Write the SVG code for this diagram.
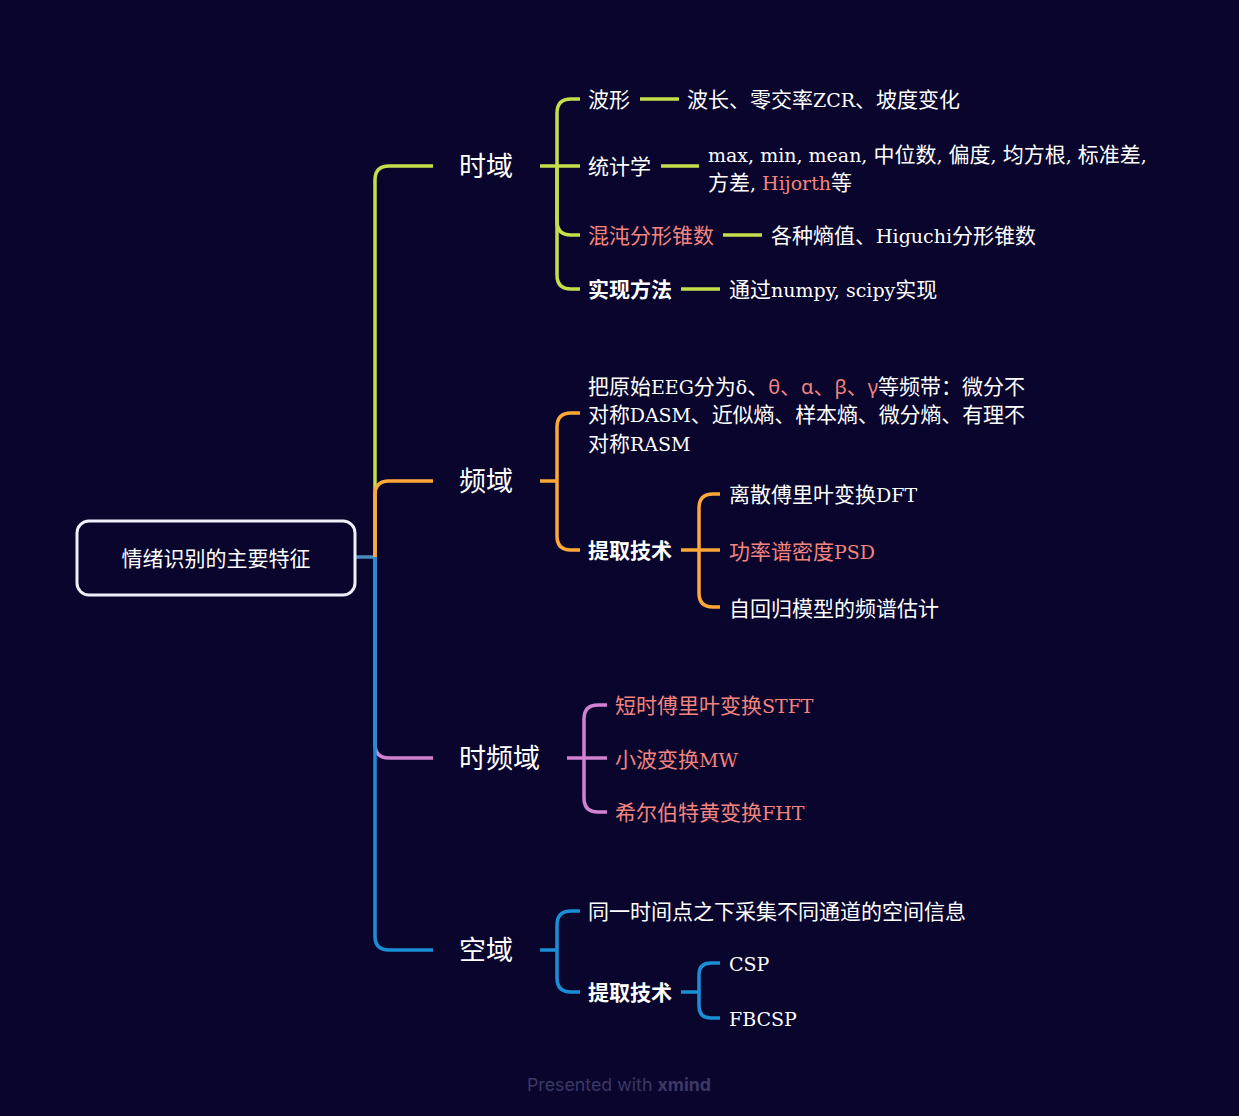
<svg xmlns="http://www.w3.org/2000/svg" width="1239" height="1116" viewBox="0 0 1239 1116">
<style>
.bg{fill:#09052d}
.c{fill:none;stroke-width:3.5;stroke-linecap:butt;stroke-linejoin:round}
.g{stroke:#c3e04b}
.o{stroke:#ffa838}
.p{stroke:#d382d1}
.b{stroke:#1b8fd6}
.t{font-family:"DejaVu Serif","Noto Sans CJK SC",serif;font-size:21px;fill:#ffffff}
.l{font-size:19px}
.s{font-family:"Noto Sans CJK SC","Noto Sans",sans-serif;font-size:21px;fill:#ffffff}
.bold{font-family:"Noto Sans CJK SC","Noto Sans",sans-serif;font-size:21px;font-weight:bold;fill:#ffffff}
.m{font-family:"Noto Sans CJK SC","Noto Sans",sans-serif;font-size:27px;fill:#ffffff}
.r{fill:#f4847f}
.gk{font-family:"Noto Sans","Noto Sans CJK SC",sans-serif;font-size:20px}
</style>
<rect class="bg" x="0" y="0" width="1239" height="1116"/>
<g id="connectors">
<path class="c" stroke="#4a8cc0" d="M356,557 H376"/>
<path class="c g" d="M375,557 V180 Q375,166 389,166 H433"/>
<path class="c o" d="M375,557 V495 Q375,481 389,481 H433"/>
<path class="c p" d="M375,557 V744 Q375,758 389,758 H433"/>
<path class="c b" d="M375,557 V936 Q375,950 389,950 H433"/>
<path class="c g" d="M540,166 H580"/>
<path class="c g" d="M557,166 V113 Q557,99 571,99 H580"/>
<path class="c g" d="M557,166 V221 Q557,235 571,235 H580"/>
<path class="c g" d="M557,166 V275 Q557,289 571,289 H580"/>
<path class="c g" d="M640,99 H679"/>
<path class="c g" d="M661,166 H699"/>
<path class="c g" d="M723,235 H762"/>
<path class="c g" d="M681,289 H720"/>
<path class="c o" d="M540,481 H557"/>
<path class="c o" d="M557,481 V427 Q557,413 571,413 H580"/>
<path class="c o" d="M557,481 V536 Q557,550 571,550 H580"/>
<path class="c o" d="M681,550 H720"/>
<path class="c o" d="M699,550 V508 Q699,494 713,494 H720"/>
<path class="c o" d="M699,550 V593 Q699,607 713,607 H720"/>
<path class="c p" d="M567,758 H607"/>
<path class="c p" d="M584,758 V719 Q584,705 598,705 H607"/>
<path class="c p" d="M584,758 V798 Q584,812 598,812 H607"/>
<path class="c b" d="M540,950 H557"/>
<path class="c b" d="M557,950 V925 Q557,911 571,911 H580"/>
<path class="c b" d="M557,950 V978 Q557,992 571,992 H580"/>
<path class="c b" d="M681,992 H699"/>
<path class="c b" d="M699,992 V975 Q699,963 711,963 H720"/>
<path class="c b" d="M699,992 V1006 Q699,1018 711,1018 H720"/>
</g>
<g id="root">
<rect x="77" y="521" width="278" height="74" rx="12" fill="#09052d" stroke="#eef0fa" stroke-width="3"/>
<text x="216" y="566" text-anchor="middle" font-family="Noto Sans CJK SC, sans-serif" font-size="21" fill="#ffffff">情绪识别的主要特征</text>
</g>
<g id="n-time"><text class="m" x="459" y="176">时域</text></g>
<g id="n-freq"><text class="m" x="459" y="491">频域</text></g>
<g id="n-tf"><text class="m" x="459" y="768">时频域</text></g>
<g id="n-space"><text class="m" x="459" y="960">空域</text></g>
<g id="n-wave"><text class="s" x="588" y="107">波形</text></g>
<g id="n-wave-d"><text class="t" x="687" y="107">波长、零交率<tspan class="l">ZCR</tspan>、坡度变化</text></g>
<g id="n-stat"><text class="s" x="588" y="174">统计学</text></g>
<g id="n-stat-d"><text class="t" x="708" y="162"><tspan class="l">max, min, mean, </tspan>中位数<tspan class="l">, </tspan>偏度<tspan class="l">, </tspan>均方根<tspan class="l">, </tspan>标准差<tspan class="l">,</tspan></text><text class="t" x="708" y="190">方差<tspan class="l">, </tspan><tspan class="l r">Hijorth</tspan>等</text></g>
<g id="n-chaos"><text class="s r" x="588" y="243">混沌分形锥数</text></g>
<g id="n-chaos-d"><text class="t" x="771" y="243">各种熵值、<tspan class="l">Higuchi</tspan>分形锥数</text></g>
<g id="n-impl"><text class="bold" x="588" y="297">实现方法</text></g>
<g id="n-impl-d"><text class="t" x="729" y="297">通过<tspan class="l">numpy, scipy</tspan>实现</text></g>
<g id="n-band"><text class="t" x="588" y="394" textLength="437" lengthAdjust="spacing">把原始<tspan class="l">EEG</tspan>分为<tspan class="l">δ</tspan>、<tspan class="r"><tspan class="gk">θ</tspan>、<tspan class="gk">α</tspan>、<tspan class="gk">β</tspan>、<tspan class="gk">γ</tspan></tspan>等频带：微分不</text><text class="t" x="588" y="422" textLength="437" lengthAdjust="spacing">对称<tspan class="l">DASM</tspan>、近似熵、样本熵、微分熵、有理不</text><text class="t" x="588" y="451">对称<tspan class="l">RASM</tspan></text></g>
<g id="n-extract1"><text class="bold" x="588" y="558">提取技术</text></g>
<g id="n-dft"><text class="t" x="729" y="502">离散傅里叶变换<tspan class="l">DFT</tspan></text></g>
<g id="n-psd"><text class="t r" x="729" y="559">功率谱密度<tspan class="l">PSD</tspan></text></g>
<g id="n-ar"><text class="t" x="729" y="616">自回归模型的频谱估计</text></g>
<g id="n-stft"><text class="t r" x="615" y="713">短时傅里叶变换<tspan class="l">STFT</tspan></text></g>
<g id="n-mw"><text class="t r" x="615" y="767">小波变换<tspan class="l">MW</tspan></text></g>
<g id="n-fht"><text class="t r" x="615" y="820">希尔伯特黄变换<tspan class="l">FHT</tspan></text></g>
<g id="n-spinfo"><text class="t" x="588" y="919">同一时间点之下采集不同通道的空间信息</text></g>
<g id="n-extract2"><text class="bold" x="588" y="1000">提取技术</text></g>
<g id="n-csp"><text class="t" x="729" y="971"><tspan class="l">CSP</tspan></text></g>
<g id="n-fbcsp"><text class="t" x="729" y="1026"><tspan class="l">FBCSP</tspan></text></g>
<text x="619" y="1091" text-anchor="middle" font-family="Inter, Noto Sans, sans-serif" font-size="17.8" fill="#3c3965">Presented with <tspan font-weight="bold">xmind</tspan></text>
</svg>
